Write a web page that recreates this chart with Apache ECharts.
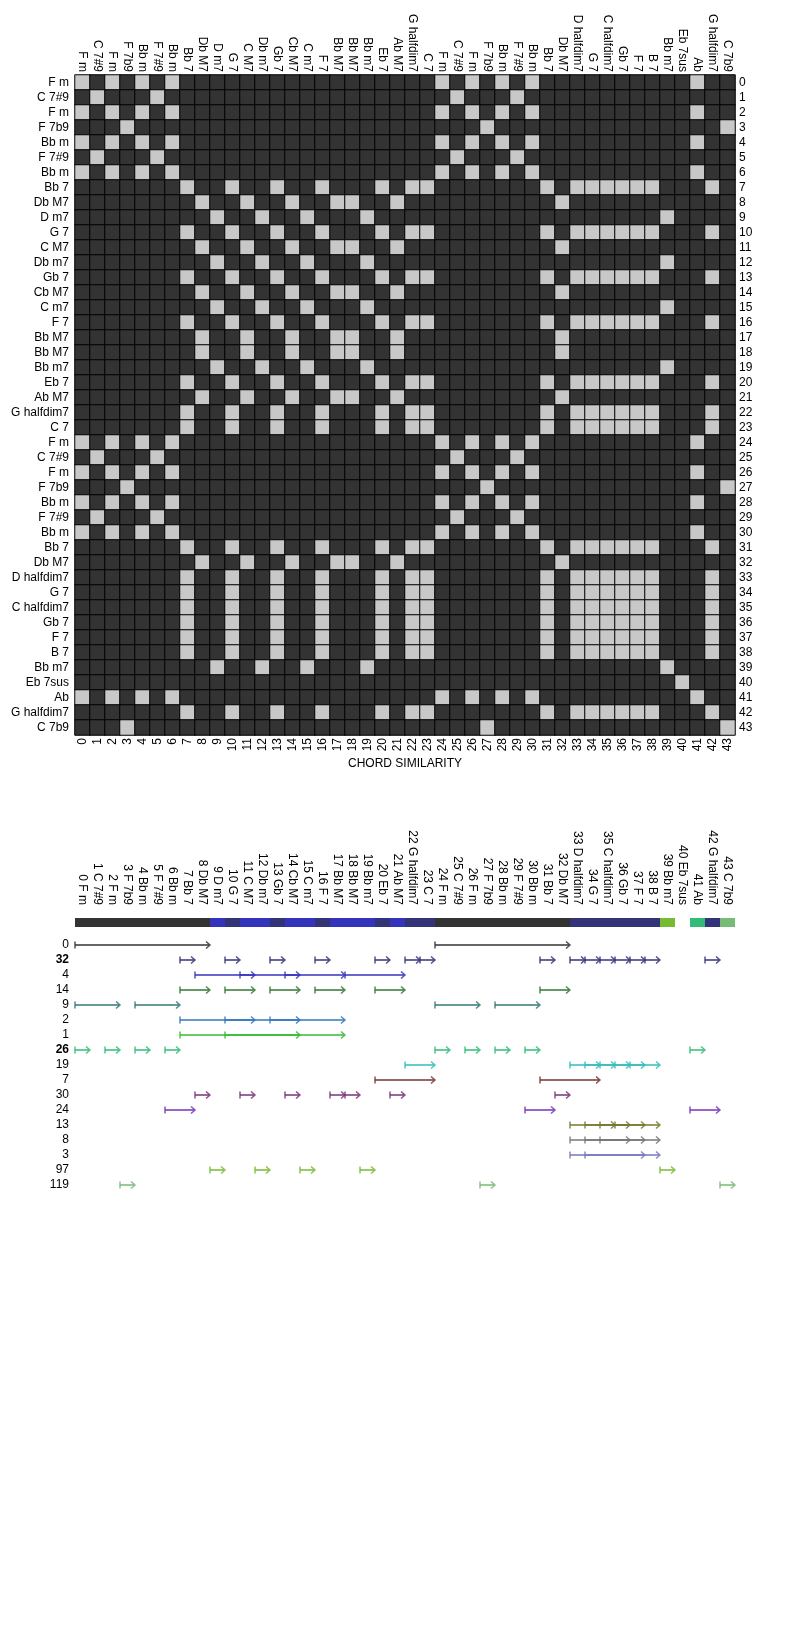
<!DOCTYPE html>
<html><head><meta charset="utf-8">
<script src="https://cdn.jsdelivr.net/npm/echarts@6/dist/echarts.min.js"></script>
<style>html,body{margin:0;padding:0;background:#fff}#c{width:810px;height:1640px}</style>
</head><body><div id="c"></div>
<script>
// ---------------- data ----------------
const chordNames = ['F m','C 7#9','F m','F 7b9','Bb m','F 7#9','Bb m','Bb 7','Db M7','D m7','G 7','C M7','Db m7','Gb 7','Cb M7','C m7','F 7','Bb M7','Bb M7','Bb m7','Eb 7','Ab M7','G halfdim7','C 7','F m','C 7#9','F m','F 7b9','Bb m','F 7#9','Bb m','Bb 7','Db M7','D halfdim7','G 7','C halfdim7','Gb 7','F 7','B 7','Bb m7','Eb 7sus','Ab','G halfdim7','C 7b9'];
// similarity class of each chord (cells are light where two chords share a class)
const chordGroup = ['A','B','A','C','A','B','A','D','E','F','D','E','F','D','E','F','D','E','E','F','D','E','D','D','A','B','A','C','A','B','A','D','E','D','D','D','D','D','D','F','G','A','D','C'];
const patternIds = ['0','32','4','14','9','2','1','26','19','7','30','24','13','8','3','97','119'];
const patternLengths = [9,1,4,2,3,5,8,1,2,4,1,2,3,4,5,1,1];
const patternStarts = [
  [0,24],
  [7,10,13,16,20,22,23,31,33,34,35,36,37,38,42],
  [8,11,14,18],
  [7,10,13,16,20,31],
  [0,4,24,28],
  [7,10,13],
  [7,10],
  [0,2,4,6,24,26,28,30,41],
  [22,33,34,35,36,37],
  [20,31],
  [8,11,14,17,18,21,32],
  [6,30,41],
  [33,34,35,36],
  [33,34,35],
  [33,34],
  [9,12,15,19,39],
  [3,27,43]
];
// ---------------- styles ----------------
const rowColors = ['#333333','#333377','#3333bb','#337733','#337777','#3377bb','#33bb33','#33bb77','#33bbbb','#773333','#773377','#7733bb','#777733','#777777','#7777bb','#77bb33','#77bb77'];
const FONT = "'Liberation Sans', Arial, sans-serif";
const boldIds = ['32','26'];

// ---------------- derived ----------------
const N = chordNames.length;
const idx = chordNames.map((_, i) => String(i));
const heatData = [];
for (let i = 0; i < N; i++) for (let j = 0; j < N; j++)
  heatData.push([j, i, chordGroup[i] === chordGroup[j] ? 1 : 0]);

const arrowData = [];
patternStarts.forEach((starts, r) => starts.forEach(s => arrowData.push([s, r, s + patternLengths[r]])));

const stripData = [];
for (let c = 0; c < N; c++) {
  for (let r = 0; r < patternStarts.length; r++) {
    if (patternStarts[r].some(s => c >= s && c < s + patternLengths[r])) { stripData.push([c, 0, r]); break; }
  }
}

const nb = s => String(s).replace(/ /g, '\u00a0');
const lbl = {fontFamily: FONT, fontSize: 12, color: '#000', overflow:'none', hideOverlap:false, formatter: nb};
const noLine = {axisLine:{show:false}, axisTick:{show:false}, splitLine:{show:false}};
const gridBase = {containLabel:false, outerBoundsMode:'none'};

const chart = echarts.init(document.getElementById('c'), null, {renderer:'canvas'});
chart.setOption({
  animation: false,
  backgroundColor: '#fff',
  title: {text:'CHORD SIMILARITY', left:'center', top:758, padding:0,
    textStyle:{fontFamily:FONT, fontSize:12, fontWeight:'normal', color:'#000'}},
  grid: [
    {...gridBase, left:75, top:75, width:660, height:660},
    {...gridBase, left:75, top:918, width:660, height:9},
    {...gridBase, left:75, top:937.5, width:660, height:255}
  ],
  xAxis: [
    {gridIndex:0, type:'category', data:chordNames, position:'top', ...noLine,
      axisLabel:{...lbl, rotate:90, interval:0, margin:3}},
    {gridIndex:0, type:'category', data:idx, position:'bottom', ...noLine,
      axisLabel:{...lbl, rotate:90, interval:0, margin:3}},
    {gridIndex:1, type:'category', data:chordNames.map((n,i)=>i+' '+n), position:'top', ...noLine,
      axisLabel:{...lbl, rotate:90, interval:0, margin:13}},
    {gridIndex:2, type:'value', min:0, max:N, show:false}
  ],
  yAxis: [
    {gridIndex:0, type:'category', data:chordNames, inverse:true, position:'left', ...noLine,
      axisLabel:{...lbl, interval:0, margin:6}},
    {gridIndex:0, type:'category', data:idx, inverse:true, position:'right', ...noLine,
      axisLabel:{...lbl, interval:0, margin:4}},
    {gridIndex:1, type:'category', data:['s'], show:false},
    {gridIndex:2, type:'category', data:patternIds, inverse:true, position:'left', ...noLine,
      axisLabel:{...lbl, interval:0, margin:6,
        formatter: v => boldIds.includes(v) ? '{b|'+v+'}' : v,
        rich:{b:{fontFamily:FONT, fontSize:12, fontWeight:'bold', color:'#000'}}}}
  ],
  visualMap: {type:'piecewise', show:false, seriesIndex:0, dimension:2,
    pieces:[{value:0, color:'#333333'},{value:1, color:'#c8c8c8'}]},
  series: [
    {type:'heatmap', xAxisIndex:0, yAxisIndex:0, data:heatData,
      itemStyle:{borderColor:'#000', borderWidth:1}, emphasis:{disabled:true}},
    {type:'custom', xAxisIndex:2, yAxisIndex:2, data:stripData, silent:true,
      renderItem:(params, api) => {
        const p = api.coord([api.value(0), 0]);
        const sz = api.size([1, 1]);
        return {type:'rect', shape:{x:p[0]-sz[0]/2, y:p[1]-sz[1]/2, width:sz[0], height:sz[1]},
          style:{fill: rowColors[api.value(2)]}};
      }},
    {type:'custom', xAxisIndex:3, yAxisIndex:3, data:arrowData, silent:true,
      encode:{x:[0,2], y:1},
      renderItem:(params, api) => {
        const r = api.value(1);
        const p0 = api.coord([api.value(0), r]);
        const p1 = api.coord([api.value(2), r]);
        const col = rowColors[r];
        const st = {stroke:col, lineWidth:2, fill:null, opacity:0.75};
        return {type:'group', children:[
          {type:'line', shape:{x1:p0[0], y1:p0[1], x2:p1[0]-1, y2:p1[1]}, style:st},
          {type:'line', shape:{x1:p0[0], y1:p0[1]-3.5, x2:p0[0], y2:p0[1]+3.5}, style:{stroke:col, lineWidth:1.5, opacity:0.85}},
          {type:'polyline', shape:{points:[[p1[0]-4, p1[1]-3.5],[p1[0], p1[1]],[p1[0]-4, p1[1]+3.5]]}, style:{stroke:col, lineWidth:1.5, fill:null, opacity:0.85}}
        ]};
      }}
  ]
});
</script>
</body></html>
